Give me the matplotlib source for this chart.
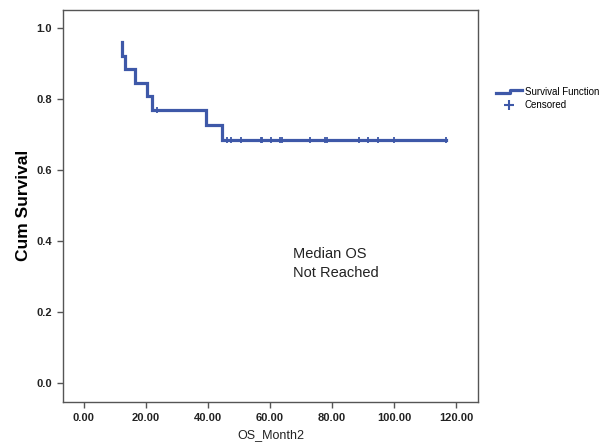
import matplotlib
matplotlib.use("Agg")
import matplotlib.pyplot as plt
from matplotlib.lines import Line2D
from matplotlib.legend_handler import HandlerBase

plt.rcParams["font.family"] = ["Liberation Sans", "DejaVu Sans"]

# Kaplan-Meier step data
event_times = [12.3, 12.3, 13.2, 16.5, 20.3, 22.2, 39.5, 44.6]
survival = [0.962, 0.923, 0.885, 0.846, 0.808, 0.769, 0.729, 0.686]
end_time = 116.7

censor_times = [23.5, 46.2, 47.4, 50.6, 57.0, 57.6, 60.2, 63.1, 63.9,
                73.0, 77.6, 78.5, 88.6, 91.7, 94.9, 99.9, 116.7]
censor_surv = [0.769] + [0.686] * 16

x_ticks = [0, 20, 40, 60, 80, 100, 120]
y_ticks = [0.0, 0.2, 0.4, 0.6, 0.8, 1.0]

blue = "#3E58A8"
spine_col = "#555555"

fig = plt.figure(figsize=(6.16, 4.46), dpi=100)
ax = fig.add_axes([0.1028, 0.0993, 0.6737, 0.8783])

xs = event_times + [end_time]
ys = survival + [survival[-1]]
ax.plot(xs, ys, drawstyle="steps-post", color=blue, lw=2.3, solid_joinstyle="miter")
ax.plot(censor_times, censor_surv, linestyle="none", marker="|", color=blue,
        markersize=4.5, markeredgewidth=1.3)

ax.set_xlim(-6.5, 127.1)
ax.set_ylim(-0.0518, 1.0516)
ax.set_xticks(x_ticks)
ax.set_xticklabels([f"{v:.2f}" for v in x_ticks])
ax.set_yticks(y_ticks)
ax.set_yticklabels([f"{v:.1f}" for v in y_ticks])
ax.tick_params(direction="out", length=4.3, width=1, color=spine_col, pad=4,
               labelsize=8)
for lab in ax.get_xticklabels() + ax.get_yticklabels():
    lab.set_fontweight("bold")
    lab.set_color("#222222")
for s in ax.spines.values():
    s.set_color(spine_col)
    s.set_linewidth(1.0)

ax.set_ylabel("Cum Survival", fontsize=12.5, fontweight="bold", labelpad=4)
ax.set_xlabel("OS_Month2", fontsize=9, labelpad=4, color="#222222")

ax.text(67.3, 0.384, "Median OS\nNot Reached", fontsize=10.5,
        color="#222222", va="top", ha="left", linespacing=1.45)


class StepHandler(HandlerBase):
    def create_artists(self, legend, orig_handle, xd, yd, w, h, fontsize, trans):
        xsx = [xd, xd + w * 0.55, xd + w * 0.55, xd + w]
        ysx = [yd + h * 0.3, yd + h * 0.3, yd + h * 0.75, yd + h * 0.75]
        ln = Line2D(xsx, ysx, color=blue, lw=2.3, transform=trans)
        return [ln]


step_h = Line2D([], [], color=blue)
cens_h = Line2D([], [], color=blue, marker="+", linestyle="none", markersize=7,
                markeredgewidth=1.5)
leg = fig.legend([step_h, cens_h], ["Survival Function", "Censored"],
                 handler_map={step_h: StepHandler()},
                 loc="upper left", bbox_to_anchor=(0.798, 0.815),
                 frameon=False, fontsize=7, handlelength=2.6,
                 handletextpad=0.3, labelspacing=0.3, borderpad=0)

fig.savefig("out.png", dpi=100)
